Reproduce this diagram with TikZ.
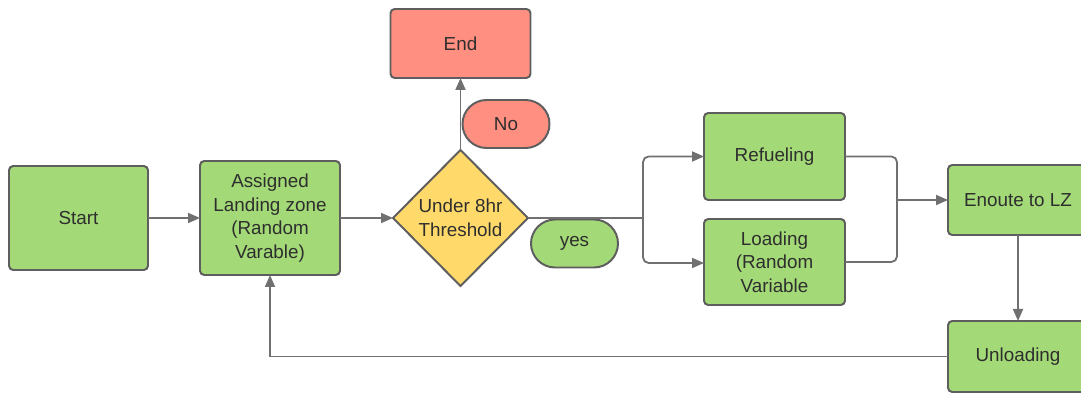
\documentclass[tikz,border=0pt]{standalone}
\usepackage{fontspec}
\setmainfont{Liberation Sans}
\usepackage{tikz}
\usetikzlibrary{shapes.geometric,shapes.misc,arrows.meta,positioning,calc}

\definecolor{boxgreen}{HTML}{A3D977}
\definecolor{boxred}{HTML}{FF8F80}
\definecolor{boxyellow}{HTML}{FFDA6B}
\definecolor{edgegrey}{HTML}{5E5E5E}
\definecolor{linegrey}{HTML}{707070}
\definecolor{txtgrey}{HTML}{2E2E2E}

\begin{document}
\begin{tikzpicture}[
  font=\fontsize{13.4}{16.7}\selectfont,
  >={Triangle[length=0.3cm, width=0.25cm]},
  box/.style={rectangle, rounded corners=3pt, draw=edgegrey, line width=1.4pt, fill=boxgreen,
              text=txtgrey, align=center, minimum width=3.5cm, inner sep=0pt, outer sep=0pt},
  stopbox/.style={box, fill=boxred},
  decide/.style={diamond, draw=edgegrey, line width=1.4pt, fill=boxyellow, text=txtgrey,
                 align=center, minimum width=3.375cm, minimum height=3.4cm, inner sep=0pt, outer sep=0pt},
  pill/.style={rounded rectangle, draw=edgegrey, line width=1.4pt, text=txtgrey,
               minimum width=2.175cm, minimum height=1.2cm, inner sep=0pt, outer sep=0pt},
  flow/.style={->, line width=1.3pt, draw=linegrey},
  wire/.style={line width=1.3pt, draw=linegrey, rounded corners=4pt},
]

\clip (0,0) rectangle (27.025,-9.825);

\node[box, minimum width=3.475cm, minimum height=2.6cm] (start) at (1.9625,-5.45) {Start};
\node[box, minimum height=2.85cm, right=1.3cm of start] (assign) {Assigned\\Landing zone\\(Random\\Varable)};
\node[decide, right=1.325cm of assign] (thresh) {Under 8hr\\Threshold};
\node[stopbox, minimum height=1.725cm, above=1.8cm of thresh] (end) {End};
\node[pill, fill=boxred, anchor=west] (no) at ([shift={(0.05,0.65)}]thresh.north) {No};
\node[pill, fill=boxgreen, anchor=west] (yes) at ([shift={(0.075,-0.6375)}]thresh.east) {yes};

\node[box, minimum width=3.525cm, minimum height=2.175cm, above right=0.45cm and 4.4cm of thresh.east] (refuel) {Refueling};
\node[box, minimum width=3.525cm, minimum height=2.15cm, below=0.475cm of refuel] (load) {Loading\\(Random\\Variable};
\node[box, minimum height=1.75cm, right=2.575cm of refuel.south east] (enroute) {Enoute to LZ};
\node[box, minimum height=1.775cm, below=2.15cm of enroute] (unload) {Unloading};

\coordinate (split) at ([xshift=2.875cm]thresh.east);
\coordinate (merge) at ([xshift=1.3cm]refuel.south east);

\draw[flow] (start) -- (assign);
\draw[flow] (assign) -- (thresh);
\draw[flow] (thresh) -- (end);
\draw[wire] (thresh.east) -- (split);
\draw[flow, rounded corners=4pt] (split) |- (refuel.west);
\draw[flow, rounded corners=4pt] (split) |- ([yshift=-0.025cm]load.west);
\draw[wire] (refuel.east) -| (merge);
\draw[wire] (load.east) -| (merge);
\draw[flow] (merge) -- (enroute);
\draw[flow] (enroute) -- (unload);
\draw[flow] (unload.west) -| (assign.south);

\end{tikzpicture}
\end{document}
